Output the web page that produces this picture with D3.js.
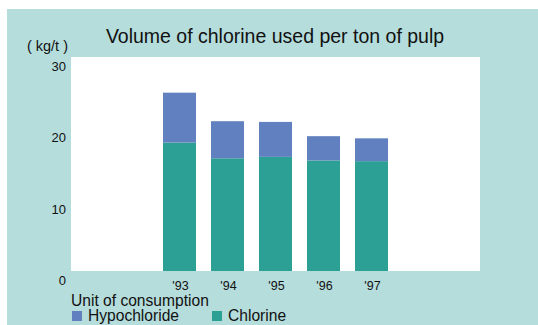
<!DOCTYPE html>
<html><head><meta charset="utf-8">
<script src="https://cdn.jsdelivr.net/npm/d3@7"></script>
<style>
html,body{margin:0;padding:0;background:#fff;}
svg{display:block;}
text{font-family:"Liberation Sans",Arial,sans-serif;fill:#111;}
</style></head>
<body>
<script>
const categories = ["'93","'94","'95","'96","'97"];
const chlorine = [18, 15.8, 16.0, 15.5, 15.4];
const hypochloride = [7, 5.2, 4.9, 3.4, 3.2];
const yTicks = [0, 10, 20, 30];
const seriesNames = ["Hypochloride", "Chlorine"];
const title = "Volume of chlorine used per ton of pulp";
const unitLabel = "( kg/t )";
const legendTitle = "Unit of consumption";

const W = 538, H = 325;
const colors = {Hypochloride: "#6180bf", Chlorine: "#2ca094"};
const svg = d3.select("body").append("svg").attr("width", W).attr("height", H);

svg.append("rect").attr("x", 7).attr("y", 9).attr("width", W - 7).attr("height", H - 9).attr("fill", "#b5dddc");

const plot = {x0: 71, x1: 480, y0: 57, y1: 271};
svg.append("rect").attr("x", plot.x0).attr("y", plot.y0).attr("width", plot.x1 - plot.x0).attr("height", plot.y1 - plot.y0).attr("fill", "#fff");

const y = d3.scaleLinear().domain([0, 30]).range([plot.y1, plot.y0]);
const cx = (plot.x0 + plot.x1) / 2;
const x = d3.scaleBand().domain(categories).range([cx - 120, cx + 120]).paddingInner(0.3125).paddingOuter(0.15625);

const data = categories.map((c, i) => ({cat: c, Chlorine: chlorine[i], Hypochloride: hypochloride[i]}));
const stack = d3.stack().keys(["Chlorine", "Hypochloride"])(data);

svg.append("g").selectAll("g").data(stack).join("g")
  .attr("fill", d => colors[d.key])
  .selectAll("rect").data(d => d).join("rect")
  .attr("x", d => x(d.data.cat))
  .attr("width", x.bandwidth())
  .attr("y", d => y(d[1]))
  .attr("height", d => y(d[0]) - y(d[1]));

// y axis labels
const yAxis = d3.axisLeft(y).tickValues(yTicks).tickSize(0).tickPadding(0);
const gy = svg.append("g").attr("transform", "translate(66,0)").call(yAxis);
gy.select(".domain").remove();
gy.selectAll("text").attr("dy", "1.05em").style("font-size", "13px").style("font-family", '"Liberation Sans",Arial,sans-serif').attr("fill", "#111");

// x axis labels
const xAxis = d3.axisBottom(x).tickSize(0).tickPadding(0);
const gx = svg.append("g").attr("transform", `translate(1,${plot.y1 + 10})`).call(xAxis);
gx.select(".domain").remove();
gx.selectAll("text").attr("dy", "0.71em").style("font-size", "12.5px").style("font-family", '"Liberation Sans",Arial,sans-serif').attr("fill", "#111");

svg.append("text").attr("x", 275).attr("y", 43).attr("text-anchor", "middle").style("font-size", "19.5px").text(title);
svg.append("text").attr("x", 68).attr("y", 51).attr("text-anchor", "end").style("font-size", "14.5px").text(unitLabel);

svg.append("text").attr("x", 71).attr("y", 305.5).style("font-size", "15.6px").text(legendTitle);
const legX = [72, 212];
seriesNames.forEach((n, i) => {
  svg.append("rect").attr("x", legX[i]).attr("y", 311).attr("width", 10).attr("height", 10).attr("fill", colors[n]);
  svg.append("text").attr("x", legX[i] + 16).attr("y", 321).style("font-size", "15.6px").text(n);
});
</script>
</body></html>
